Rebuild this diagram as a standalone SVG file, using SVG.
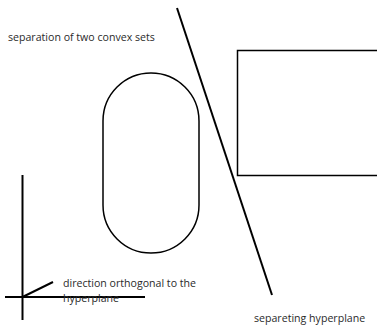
<svg xmlns="http://www.w3.org/2000/svg" width="377" height="325" viewBox="0 0 377 325">
<style>
.s{fill:none;stroke:#000;}
.t{font-family:"Open Sans","Noto Sans",sans-serif;font-size:10.6px;fill:#2a2a2a;}
</style>
<rect width="377" height="325" fill="#fff"/>
<g id="title"><text class="t" x="8" y="41">separation of two convex sets</text></g>
<g id="convex-set-1"><path class="s" stroke-width="1.5" d="M103,121 A48,48 0 0 1 199,121 L199,205 A48,48 0 0 1 103,205 Z"/></g>
<g id="convex-set-2"><rect class="s" stroke-width="1.5" x="237.5" y="50.5" width="150" height="125"/></g>
<g id="hyperplane"><line class="s" stroke-width="2" x1="177" y1="8" x2="272" y2="295"/>
<text class="t" x="254" y="322">separeting hyperplane</text></g>
<g id="axes">
<line class="s" stroke-width="2" x1="22.5" y1="175" x2="22.5" y2="320"/>
<line class="s" stroke-width="2" x1="5" y1="297" x2="145" y2="297"/>
<line class="s" stroke-width="2" x1="22.5" y1="297" x2="53" y2="282"/>
<text class="t" x="63" y="287">direction orthogonal to the</text>
<text class="t" x="63" y="302">hyperplane</text>
</g>
</svg>
